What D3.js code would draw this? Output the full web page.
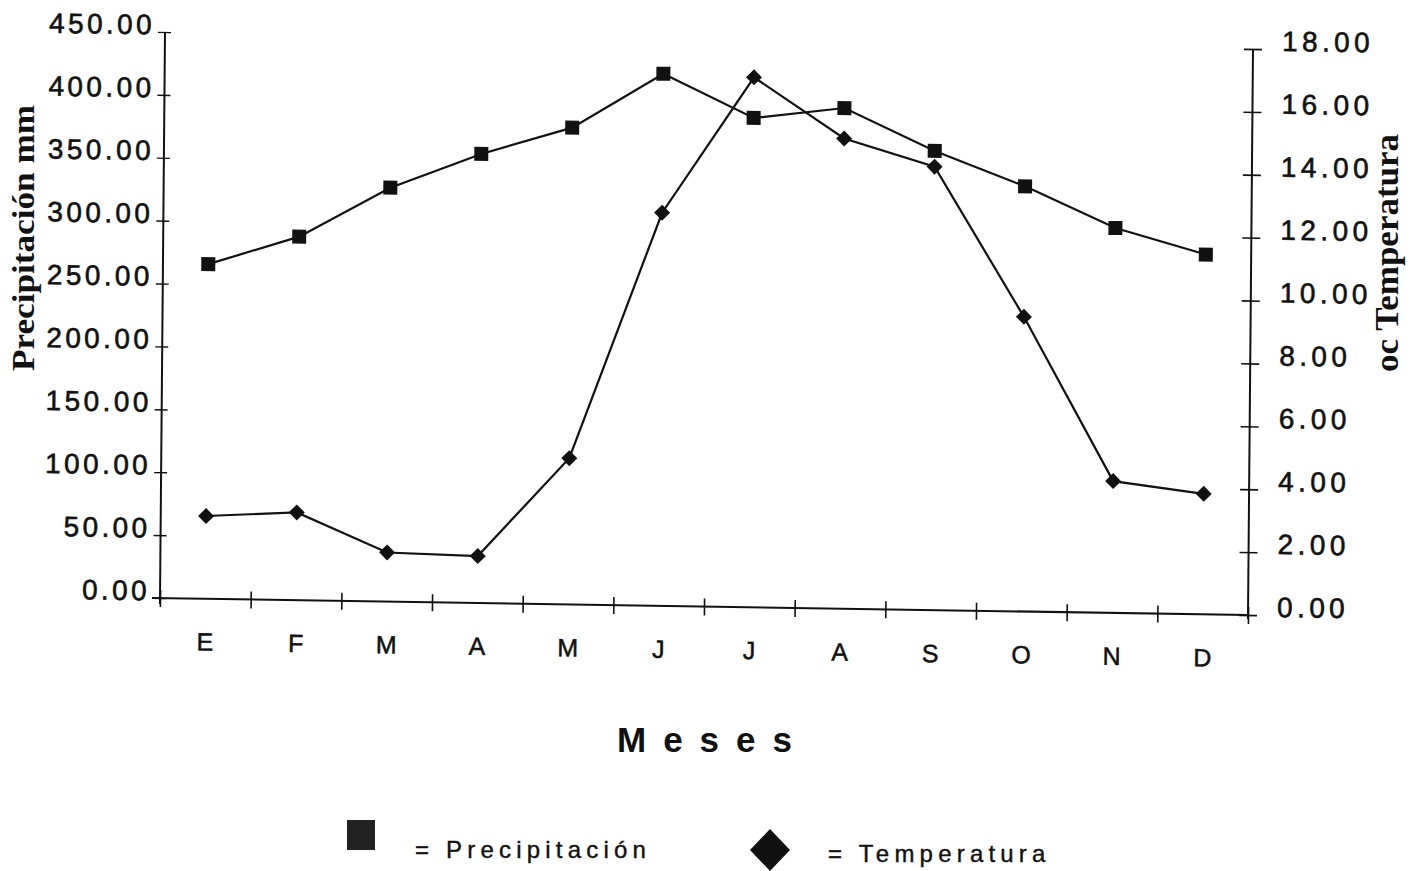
<!DOCTYPE html>
<html>
<head>
<meta charset="utf-8">
<script src="https://cdn.jsdelivr.net/npm/d3@7"></script>
<style>
  html, body { margin: 0; padding: 0; background: #fff; }
  svg { display: block; }
</style>
</head>
<body>
<svg id="chart" width="1412" height="871"></svg>
<script>
// ---- data ----
const months = ["E", "F", "M", "A", "M", "J", "J", "A", "S", "O", "N", "D"];
const precipitacion = [266, 289, 329, 357, 379, 423, 389, 398, 365, 338, 306, 286];
const temperatura = [2.63, 2.79, 1.56, 1.49, 4.65, 12.5, 16.85, 14.95, 14.1, 9.37, 4.19, 3.83];
const leftTicks = [0, 50, 100, 150, 200, 250, 300, 350, 400, 450];
const rightTicks = [0, 2, 4, 6, 8, 10, 12, 14, 16, 18];

// ---- layout ----
const W = 1088, H = 566;
const svg = d3.select("#chart");
svg.append("rect").attr("width", 1412).attr("height", 871).attr("fill", "#fff");

// the scanned figure is slightly skewed; reproduce with an affine transform
const g = svg.append("g")
  .attr("transform", "matrix(1,0.015625,-0.00883,1,165,32)");

const x = d3.scaleBand().domain(d3.range(12)).range([0, W]);
const xl = d3.scaleLinear().domain([0, 12]).range([0, W]);
const yL = d3.scaleLinear().domain([0, 450]).range([H, 0]);
const yR = d3.scaleLinear().domain([0, 18]).range([H, 0]);
const fmt = d3.format(".2f");

const tickFont = "'Liberation Sans', Arial, Helvetica, sans-serif";

// x axis line with crossing ticks at band boundaries
const xAxis = g.append("g").attr("transform", `translate(0,${H})`)
  .call(d3.axisBottom(xl).tickValues(d3.range(13)).tickFormat("").tickSizeOuter(0).tickSize(8));
xAxis.select(".domain").attr("d", `M-8,0H${W}`).attr("stroke", "#111").attr("stroke-width", 2);
xAxis.selectAll(".tick line").attr("y1", -8).attr("y2", 9).attr("stroke", "#111").attr("stroke-width", 1.6);

// x labels
const xLab = g.append("g").attr("transform", `translate(0,${H})`)
  .call(d3.axisBottom(x).tickFormat(i => months[i]).tickSize(0));
xLab.select(".domain").remove();
xLab.selectAll("text")
  .attr("y", 52).attr("dy", 0)
  .attr("font-family", tickFont).attr("font-size", 25).attr("fill", "#111")
  .attr("stroke", "#111").attr("stroke-width", 0.5);

// left axis
const lAxis = g.append("g")
  .call(d3.axisLeft(yL).tickValues(leftTicks).tickFormat(fmt).tickSizeOuter(0).tickSize(6));
lAxis.select(".domain").attr("d", `M0,0V${H + 6}`).attr("stroke", "#111").attr("stroke-width", 2);
lAxis.selectAll(".tick line").attr("x1", 6).attr("x2", -7).attr("stroke", "#111").attr("stroke-width", 1.4);
lAxis.selectAll(".tick text")
  .attr("x", -10).attr("dy", 0).attr("y", 2)
  .attr("font-family", tickFont).attr("font-size", 28).attr("letter-spacing", 3.4).attr("fill", "#111")
  .attr("stroke", "#111").attr("stroke-width", 0.6);

// right axis
const rAxis = g.append("g").attr("transform", `translate(${W},0)`)
  .call(d3.axisRight(yR).tickValues(rightTicks).tickFormat(fmt).tickSizeOuter(0).tickSize(9));
rAxis.select(".domain").attr("d", `M0,0V${H + 4}`).attr("stroke", "#111").attr("stroke-width", 2);
rAxis.selectAll(".tick line").attr("x1", -9).attr("x2", 9).attr("stroke", "#111").attr("stroke-width", 1.6);
rAxis.selectAll(".tick text")
  .attr("x", 29).attr("dy", 0).attr("y", 1)
  .attr("font-family", tickFont).attr("font-size", 28).attr("letter-spacing", 4.4).attr("fill", "#111")
  .attr("stroke", "#111").attr("stroke-width", 0.6);

// lines
const cx = i => x(i) + x.bandwidth() / 2;
const lineP = d3.line().x((d, i) => cx(i)).y(d => yL(d));
const lineT = d3.line().x((d, i) => cx(i)).y(d => yR(d));

g.append("path").datum(precipitacion).attr("d", lineP)
  .attr("fill", "none").attr("stroke", "#111").attr("stroke-width", 2.2);
g.append("path").datum(temperatura).attr("d", lineT)
  .attr("fill", "none").attr("stroke", "#111").attr("stroke-width", 2.2);

// markers
const sq = 14;
g.append("g").selectAll("rect").data(precipitacion).join("rect")
  .attr("x", (d, i) => cx(i) - sq / 2).attr("y", d => yL(d) - sq / 2)
  .attr("width", sq).attr("height", sq).attr("fill", "#111");

const dm = 8;
g.append("g").selectAll("path").data(temperatura).join("path")
  .attr("d", (d, i) => {
    const px = cx(i), py = yR(d);
    return `M${px},${py - dm}L${px + dm},${py}L${px},${py + dm}L${px - dm},${py}Z`;
  })
  .attr("fill", "#111");

// axis titles
const serif = "'Liberation Serif', 'Times New Roman', serif";
svg.append("text")
  .attr("transform", "translate(34,238) rotate(-90)")
  .attr("text-anchor", "middle")
  .attr("font-family", serif).attr("font-weight", "bold").attr("font-size", 31)
  .attr("textLength", 266).attr("lengthAdjust", "spacingAndGlyphs")
  .attr("fill", "#111")
  .text("Precipitación mm");

svg.append("text")
  .attr("transform", "translate(1398,253) rotate(-90)")
  .attr("text-anchor", "middle")
  .attr("font-family", serif).attr("font-weight", "bold").attr("font-size", 33)
  .attr("textLength", 238).attr("lengthAdjust", "spacingAndGlyphs")
  .attr("fill", "#111")
  .attr("stroke", "#fff").attr("stroke-width", 5).attr("paint-order", "stroke")
  .text("oc Temperatura");

// x title
svg.append("text")
  .attr("x", 713).attr("y", 752)
  .attr("text-anchor", "middle")
  .attr("font-family", tickFont).attr("font-weight", "bold").attr("font-size", 35)
  .attr("letter-spacing", 17)
  .attr("fill", "#111")
  .text("Meses");

// legend
const leg = svg.append("g");
leg.append("rect").attr("x", 347).attr("y", 820).attr("width", 28).attr("height", 30).attr("fill", "#222");
leg.append("text").attr("x", 415).attr("y", 858)
  .attr("font-family", tickFont).attr("font-size", 24).attr("letter-spacing", 5.2).attr("fill", "#111")
  .attr("stroke", "#111").attr("stroke-width", 0.4)
  .text("= Precipitación");
leg.append("path").attr("d", "M770,829L790,850L770,871L750,850Z").attr("fill", "#111");
leg.append("text").attr("x", 828).attr("y", 862)
  .attr("font-family", tickFont).attr("font-size", 24).attr("letter-spacing", 5.2).attr("fill", "#111")
  .attr("stroke", "#111").attr("stroke-width", 0.4)
  .text("= Temperatura");
</script>
</body>
</html>
